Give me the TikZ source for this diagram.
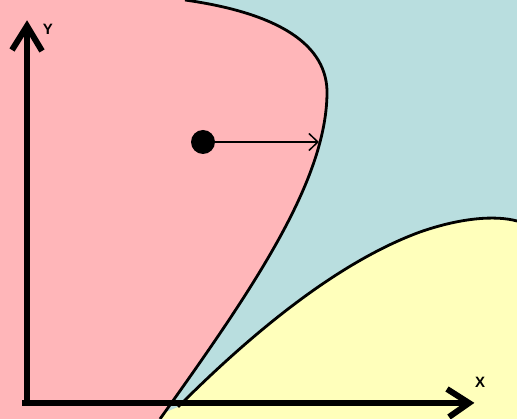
\documentclass[tikz,border=0pt]{standalone}
\usepackage{fontspec}
\setmainfont{Liberation Sans}
\usetikzlibrary{arrows.meta}
\definecolor{pinkreg}{RGB}{255,182,185}
\definecolor{bluereg}{RGB}{185,222,223}
\definecolor{yellowreg}{RGB}{255,255,187}
\tikzset{
  boundary/.style={line width=2.8pt, black},
  axis/.style={line width=6pt, black, line join=miter},
  axlabel/.style={font=\fontsize{15}{15}\selectfont\bfseries, inner sep=0pt},
}
\begin{document}
\begin{tikzpicture}[x=1pt,y=-1pt]
\useasboundingbox (0,0) rectangle (517,419);
% background (blue region)
\fill[bluereg] (0,0) rectangle (517,419);
% yellow region
\fill[yellowreg] (178,407) .. controls (240,345) and (330,265) .. (420,232)
  .. controls (460,218) and (495,215) .. (517,221) -- (517,419) -- (150,419) -- cycle;
% pink region
\fill[pinkreg] (0,0) -- (185,0) .. controls (270,12) and (325,40) .. (327,90)
  .. controls (328,180) and (252,290) .. (160,419) -- (0,419) -- cycle;
% boundaries
\draw[boundary] (185,0) .. controls (270,12) and (325,40) .. (327,90)
  .. controls (328,180) and (252,290) .. (160,419);
\draw[boundary] (178,407) .. controls (240,345) and (330,265) .. (420,232)
  .. controls (460,218) and (495,215) .. (517,221);
% axes
\coordinate (ytip) at (27,26);
\coordinate (xtip) at (469,403);
\draw[axis] (27,406) -- (ytip);
\draw[axis] (22,403) -- (xtip);
\draw[axis] (12,50) -- (ytip) -- (42,51);
\draw[axis] (447,389) -- (xtip) -- (449,417);
\node[axlabel] (ylab) at (48,29) {Y};
\node[axlabel] (xlab) at (480,382) {X};
% point and arrow
\node[circle, fill=black, minimum size=24pt, inner sep=0pt] (dot) at (203,142) {};
\coordinate (target) at (319,142);
\draw[line width=1.5pt, -{Straight Barb[length=9pt,width=17pt,line width=1.5pt]}] (dot.east) -- (target);
\end{tikzpicture}
\end{document}
